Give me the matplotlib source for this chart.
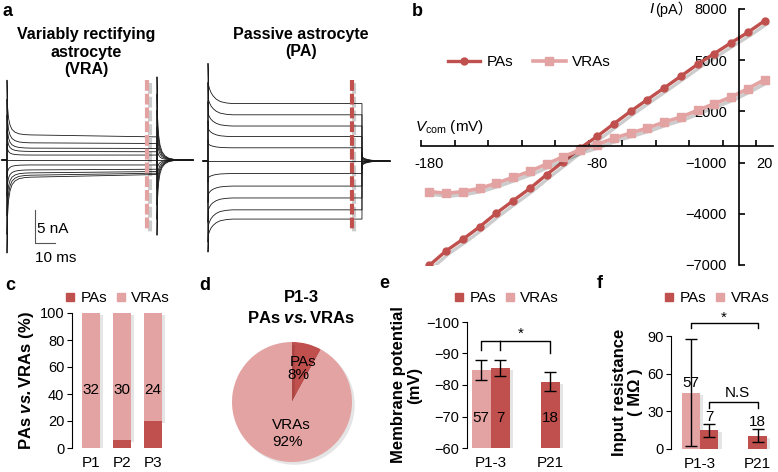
import numpy as np
import matplotlib
matplotlib.use("Agg")
import matplotlib.pyplot as plt
import matplotlib.patheffects as pe
from matplotlib.lines import Line2D

W, H = 778, 472
plt.rcParams['font.family'] = ['Liberation Sans', 'Noto Sans CJK SC', 'DejaVu Sans']
plt.rcParams['mathtext.fontset'] = 'custom'
plt.rcParams['mathtext.rm'] = 'Liberation Sans'
plt.rcParams['mathtext.it'] = 'Liberation Sans:italic'
plt.rcParams['mathtext.bf'] = 'Liberation Sans:bold'
plt.rcParams['mathtext.bfit'] = 'Liberation Sans:italic:bold'

PA_C = '#C0504D'
VRA_C = '#E3A3A2'

# ---- a: whole-cell currents (nA) for each voltage step
pulse_ms = 75
measure_ms = 70
vra_level = [3.8, 2.6, 1.8, 1.3, 0.75, 0, -0.75, -1.5, -1.95, -2.3, -2.6]
vra_level_end = [3.5, 2.5, 1.75, 1.25, 0.75, 0, -0.75, -1.4, -1.75, -2.0, -2.2]
vra_spike = [8.3, 6.6, 5.0, 3.3, 1.7, 0, -2.0, -4.0, -6.5, -9.0, -11.5]
vra_tail = [-11.4, -9.0, -6.8, -4.5, -2.2, 0, 2.5, 5.0, 7.5, 10.0, 12.6]
pa_level = [8.7, 7.0, 5.3, 3.7, 2.0, 0, -1.9, -3.8, -5.6, -7.4, -8.8]
pa_spike = [6.1, 4.9, 3.7, 2.4, 1.2, 0, -1.3, -2.5, -3.7, -4.9, -5.0]
pa_tail = [-1.3, -1.0, -0.8, -0.5, -0.3, 0, 0.3, 0.5, 0.8, 1.0, 1.3]
# decay of the capacitive transients
tr_t = [0, 0.3, 0.8, 1.5, 2.5, 4, 6, 9, 12]
vra_f = [1, 0.5, 0.3, 0.18, 0.1, 0.05, 0.02, 0.005, 0]
pa_f = [1, 0.45, 0.36, 0.27, 0.19, 0.11, 0.05, 0.015, 0]

# ---- b: I-V curves
b_v = [-180, -170, -160, -150, -140, -130, -120, -110, -100, -90, -80,
       -70, -60, -50, -40, -30, -20, -10, 0, 10, 20]
b_pa = [-7020, -6170, -5490, -4760, -3960, -3230, -2510, -1700, -940, -150, 530,
        1270, 2000, 2690, 3370, 4060, 4760, 5390, 6020, 6630, 7310]
b_vra = [-2700, -2800, -2700, -2510, -2210, -1860, -1510, -1080, -650, -250, 60,
         430, 730, 1020, 1370, 1670, 2060, 2450, 2840, 3330, 3860]
b_xlabels = ['-180', '-80', '20']
b_yticks = [-7000, -4000, -1000, 2000, 5000, 8000]

# ---- c: cell counts per age
c_days = ['P1', 'P2', 'P3']
c_pa = [0, 2, 6]
c_vra = [32, 30, 24]

# ---- d: P1-3 share (%)
d_share = [8, 92]

# ---- e: membrane potential (mV)
e_groups = ['P1-3', 'P21']
e_vra = [-84.8, np.nan]
e_vra_err = [3.2, np.nan]
e_pa = [-85.3, -81.0]
e_pa_err = [2.6, 3.0]
e_vra_n = [57]
e_pa_n = [7, 18]

# ---- f: input resistance (MOhm)
f_vra = [45.0, np.nan]
f_vra_err = [43.0, np.nan]
f_pa = [14.9, 10.7]
f_pa_err = [5.0, 5.0]
f_vra_n = [57]
f_pa_n = [7, 18]

VS_LABEL = r'PAs $\mathbfit{vs.}$VRAs'

fig = plt.figure(figsize=(W / 100, H / 100), dpi=100)


def px_axes(x0, y0, x1, y1):
    return fig.add_axes([x0 / W, 1 - y1 / H, (x1 - x0) / W, (y1 - y0) / H])


def ftext(x, y, s, **kw):
    return fig.text(x / W, 1 - y / H, s, **kw)


def shadow_line(off=2, a=0.25):
    return [pe.SimpleLineShadow(offset=(off, -off), shadow_color='k', alpha=a), pe.Normal()]


def bar_shadow(patches):
    for p in patches:
        p.set_path_effects([pe.withSimplePatchShadow(offset=(2.5, -1.5), shadow_rgbFace='k', alpha=0.1)])


def step_trace(level, level_end, spike, tail, prof, t_pre, t_post):
    t, y = [t_pre, 0.0], [0.0, 0.0]
    for tt, f in zip(tr_t, prof):
        t.append(tt)
        y.append(level + spike * f)
    t.append(pulse_ms)
    y.append(level_end)
    for tt, f in zip(tr_t, prof):
        t.append(pulse_ms + tt)
        y.append(tail * f)
    t.append(t_post)
    y.append(0.0)
    return t, y


def square_legend(ax, x, y):
    hs = [Line2D([], [], ls='none', marker='s', ms=6, color=c) for c in (PA_C, VRA_C)]
    ax.legend(hs, ['PAs', 'VRAs'], loc='center left', bbox_to_anchor=(x / W, 1 - y / H),
              bbox_transform=fig.transFigure, ncol=2, frameon=False, borderpad=0,
              borderaxespad=0, handlelength=0.6, handletextpad=0.4, columnspacing=0.6,
              fontsize=11)


def bar_axes_style(ax):
    for s in ('top', 'right', 'bottom'):
        ax.spines[s].set_visible(False)
    ax.tick_params(axis='y', direction='out', length=3.5, labelsize=10.5, pad=2)
    ax.tick_params(axis='x', length=0, labelsize=11, pad=6)


# ================= a =================
ax = px_axes(0, 55, 200, 265)
ax.set_xlim((0 - 7) / 2, (200 - 7) / 2)
ax.set_ylim((160 - 265) / 6.6, (160 - 55) / 6.6)
ax.axis('off')
for i in range(len(vra_level)):
    t, y = step_trace(vra_level[i], vra_level_end[i], vra_spike[i], vra_tail[i], vra_f, -2.5, 93)
    ax.plot(t, y, color='#1a1a1a', lw=0.6)
ax.plot([measure_ms, measure_ms], [12.1, -10.6], color=VRA_C, lw=3,
        ls=(0, (2.6, 0.7)), path_effects=shadow_line(2, 0.2))
# scale bar 5 nA / 10 ms
ax.plot([14, 14, 24], [-7.6, -12.6, -12.6], color='#555555', lw=0.8)
ax.text(14.8, -10.4, '5 nA', fontsize=11, va='center')
ax.text(14, -14.9, '10 ms', fontsize=11, va='center')

ax = px_axes(200, 55, 395, 265)
ax.set_xlim((200 - 208) / 2.053, (395 - 208) / 2.053)
ax.set_ylim((161 - 265) / 6.6, (161 - 55) / 6.6)
ax.axis('off')
for i in range(len(pa_level)):
    t, y = step_trace(pa_level[i], pa_level[i], pa_spike[i], pa_tail[i], pa_f, -2.4, 88.6)
    ax.plot(t, y, color='#1a1a1a', lw=0.6)
ax.plot([measure_ms, measure_ms], [12.3, -10.5], color=PA_C, lw=3,
        ls=(0, (2.6, 0.7)), path_effects=shadow_line(2, 0.2))

ftext(86, 52, 'Variably rectifying\nastrocyte\n(VRA)', ha='center', va='center',
      fontsize=11.5, fontweight='bold', linespacing=1.2)
ftext(301, 43, 'Passive astrocyte\n(PA)', ha='center', va='center',
      fontsize=11.5, fontweight='bold', linespacing=1.2)

# ================= b =================
ax = px_axes(421, 9, 773, 265)
ax.plot(b_v, b_pa, color=PA_C, lw=2.4, path_effects=shadow_line(2, 0.2))
ax.plot(b_v, b_pa, ls='none', color=PA_C, marker='o', ms=5)
ax.plot(b_v, b_vra, color=VRA_C, lw=2.6, path_effects=shadow_line(2, 0.2))
ax.plot(b_v, b_vra, ls='none', color=VRA_C, marker='s', ms=5.5)
ax.set_xlim(-185, 25)
ax.set_ylim(-7000, 8000)
for s in ('top', 'right'):
    ax.spines[s].set_visible(False)
ax.spines['left'].set_position(('data', 5))
ax.spines['bottom'].set_position(('data', 0))
for s in ('left', 'bottom'):
    ax.spines[s].set_linewidth(1.2)
ax.set_xticks([-180, -80, 20], labels=b_xlabels)
ax.set_xticks(np.arange(-185, 16, 20), minor=True)
ax.tick_params(axis='x', which='major', length=0, pad=8, labelsize=10.5)
ax.tick_params(axis='x', which='minor', direction='in', length=4, width=1.2)
ax.set_yticks(b_yticks)
ax.tick_params(axis='y', direction='in', length=4, width=1.2, pad=9, labelsize=10.5)
b_handles = [Line2D([], [], color=PA_C, lw=2.4, marker='o', ms=5),
             Line2D([], [], color=VRA_C, lw=2.6, marker='s', ms=5.5)]
ax.legend(b_handles, ['PAs', 'VRAs'], loc='center left', bbox_to_anchor=(448 / W, 1 - 62 / H),
          bbox_transform=fig.transFigure, ncol=2, frameon=False, borderpad=0, borderaxespad=0,
          handlelength=2.1, handletextpad=0.45, columnspacing=1.3, fontsize=11)
ftext(649, 9, 'I', fontsize=11, style='italic', va='center')
ftext(655, 9, '(pA\uff09', fontsize=10.5, va='center')
ftext(415, 127, r'$V_{\rm com}$ (mV)', fontsize=11, va='center')

# ================= c =================
ax = px_axes(72, 313, 170, 448)
xc = np.arange(len(c_days))
tot = np.array(c_pa) + np.array(c_vra)
pa_pct = 100 * np.array(c_pa) / tot
vra_pct = 100 - pa_pct
bv = ax.bar(xc, vra_pct, 0.58, bottom=pa_pct, color=VRA_C, zorder=2)
bp = ax.bar(xc, pa_pct, 0.58, color=PA_C, zorder=3)
bar_shadow(bv)
for i, n in enumerate(c_vra):
    ax.text(xc[i], 43, str(n), ha='center', va='center', fontsize=11, zorder=4)
ax.set_xlim(-0.613, 2.55)
ax.set_ylim(0, 100)
ax.set_yticks([0, 20, 40, 60, 80, 100])
ax.set_xticks(xc, labels=c_days)
bar_axes_style(ax)
ax.set_ylabel(VS_LABEL + ' (%)', fontsize=12, fontweight='bold', labelpad=3)
square_legend(ax, 65, 298)

# ================= d =================
ax = px_axes(232, 342, 352, 462)
wedges, _ = ax.pie(d_share, colors=[PA_C, VRA_C], startangle=90, counterclock=False, radius=1)
for w_ in wedges:
    w_.set_path_effects([pe.withSimplePatchShadow(offset=(2, -2), shadow_rgbFace='k', alpha=0.1)])
ax.set_xlim(-1, 1)
ax.set_ylim(-1, 1)
ax.text(-0.03, 0.67, 'PAs', fontsize=11, va='center')
ax.text(-0.08, 0.45, f'{d_share[0]}%', fontsize=11, va='center')
ax.text(-0.33, -0.38, 'VRAs', fontsize=11, va='center')
ax.text(-0.33, -0.67, f'{d_share[1]}%', fontsize=11, va='center')
ftext(301, 298, 'P1-3', ha='center', va='center', fontsize=12, fontweight='bold')
ftext(301, 318, VS_LABEL, ha='center', va='center', fontsize=12, fontweight='bold')

# ================= e =================
bw = 0.38
ax = px_axes(467, 322, 570, 448)
xg = np.arange(len(e_groups))
bv = ax.bar(xg - bw / 2, np.array(e_vra) + 60, bw, bottom=-60, color=VRA_C, zorder=2)
bp = ax.bar(xg + bw / 2, np.array(e_pa) + 60, bw, bottom=-60, color=PA_C, zorder=3)
bar_shadow(list(bv) + list(bp))
ax.errorbar(xg - bw / 2, e_vra, yerr=e_vra_err, fmt='none', ecolor='k', elinewidth=1, capsize=4, zorder=5)
ax.errorbar(xg + bw / 2, e_pa, yerr=e_pa_err, fmt='none', ecolor='k', elinewidth=1, capsize=4, zorder=5)
ax.set_ylim(-60, -100)
ax.set_xlim(-0.47, 1.59)
ax.set_yticks([-60, -70, -80, -90, -100])
ax.set_xticks([0, 1 + bw / 2], labels=e_groups)
bar_axes_style(ax)
for i, n in enumerate(e_vra_n):
    ax.text(xg[i] - bw / 2, -69.5, str(n), ha='center', va='center', fontsize=11, zorder=6)
for i, n in enumerate(e_pa_n):
    ax.text(xg[i] + bw / 2, -69.5, str(n), ha='center', va='center', fontsize=11, zorder=6)
xl, xm, xr = -bw / 2, bw / 2, 1 + bw / 2
ax.plot([xl, xl, xr, xr], [-91.1, -94.1, -94.1, -90.2], color='k', lw=1, clip_on=False)
ax.plot([xm, xm], [-94.1, -91.1], color='k', lw=1, clip_on=False)
ax.text((xl + xr) / 2 + 0.1, -96.3, '*', ha='center', va='center', fontsize=11)
ax.set_ylabel('Membrane potential\n(mV)', fontsize=12, fontweight='bold', labelpad=3, linespacing=1.05)
square_legend(ax, 454, 298)

# ================= f =================
ax = px_axes(671, 336, 775, 449)
bv = ax.bar(xg - bw / 2, f_vra, bw, color=VRA_C, zorder=2)
bp = ax.bar(xg + bw / 2, f_pa, bw, color=PA_C, zorder=3)
bar_shadow(list(bv) + list(bp))
ax.errorbar(xg - bw / 2, f_vra, yerr=f_vra_err, fmt='none', ecolor='k', elinewidth=1, capsize=4, zorder=5)
ax.errorbar(xg + bw / 2, f_pa, yerr=f_pa_err, fmt='none', ecolor='k', elinewidth=1, capsize=4, zorder=5)
ax.set_ylim(0, 90)
ax.set_xlim(-0.6, 1.55)
ax.set_yticks([0, 30, 60, 90])
ax.set_xticks([0, 1 + bw / 2], labels=e_groups)
bar_axes_style(ax)
ax.text(-bw / 2, 52.5, str(f_vra_n[0]), ha='center', va='center', fontsize=11, zorder=6)
ax.text(bw / 2, 25.5, str(f_pa_n[0]), ha='center', va='center', fontsize=11, zorder=6)
ax.text(1 + bw / 2, 21.5, str(f_pa_n[1]), ha='center', va='center', fontsize=11, zorder=6)
ax.plot([-bw / 2, -bw / 2, 1 + bw / 2, 1 + bw / 2], [96.3, 100.3, 100.3, 96.3], color='k', lw=1, clip_on=False)
ax.text(0.5, 104.5, '*', ha='center', va='center', fontsize=11)
ax.plot([bw / 2, bw / 2, 1 + bw / 2, 1 + bw / 2], [32.6, 37.7, 37.7, 32.6], color='k', lw=1, clip_on=False)
ax.text(0.78, 44.6, 'N.S', ha='center', va='center', fontsize=11)
ax.set_ylabel('Input resistance\n( M\u03a9 )', fontsize=12, fontweight='bold', labelpad=3, linespacing=1.05)
square_legend(ax, 664.5, 298)

# panel letters
for s, x, y in [('a', 8, 11), ('b', 417, 12), ('c', 10, 285), ('d', 205, 285), ('e', 384, 283), ('f', 600, 283)]:
    ftext(x, y, s, fontsize=13, fontweight='bold', ha='center', va='center')

fig.savefig('out.png', dpi=100)
